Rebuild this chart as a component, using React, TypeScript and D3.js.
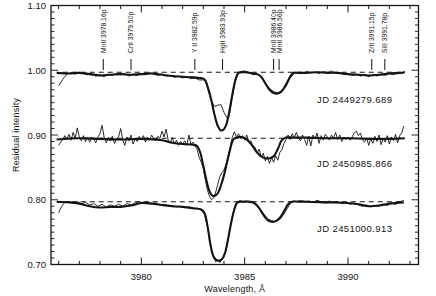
import React from "react";
import * as d3 from "d3";

// ---------- data ----------
const W = 436, H = 296;

// line identifications (label, wavelength)
const markerLabels = ["MnII 3978.16p", "CrII 3979.50p", "Y II 3982.59p", "HgII 3983.93p", "MnII 3986.40p", "MnII 3986.56p", "ZrII 3991.15p", "SiII 3991.78p"];
const markerWaves = [3978.16, 3979.50, 3982.59, 3983.93, 3986.40, 3986.56, 3991.15, 3991.78];

const jdLabels = ["JD 2449279.689", "JD 2450985.866", "JD 2451000.913"];
const continuumLevels = [0.997, 0.895, 0.797];
const jdLabelLevels = [0.950, 0.850, 0.750];

// Spectrum 1 (JD 2449279.689) model – thick
const modelTop: [number, number][] = [
  [3975.9, 0.996], [3976.5, 0.995], [3977.0, 0.996], [3977.5, 0.994], [3978.0, 0.992], [3978.5, 0.993],
  [3979.0, 0.994], [3979.5, 0.993], [3980.0, 0.994], [3980.5, 0.995], [3981.0, 0.993], [3981.5, 0.991],
  [3982.0, 0.990], [3982.5, 0.989], [3982.8, 0.988], [3983.0, 0.987], [3983.1, 0.984], [3983.25, 0.970],
  [3983.4, 0.952], [3983.55, 0.930], [3983.7, 0.914], [3983.85, 0.907], [3984.0, 0.909], [3984.1, 0.915],
  [3984.25, 0.935], [3984.4, 0.962], [3984.55, 0.985], [3984.7, 0.996], [3985.0, 0.997], [3985.4, 0.995],
  [3985.6, 0.994], [3985.8, 0.990], [3986.0, 0.980], [3986.2, 0.970], [3986.4, 0.965], [3986.6, 0.964],
  [3986.8, 0.968], [3987.0, 0.978], [3987.2, 0.990], [3987.35, 0.996], [3987.6, 0.996], [3988.0, 0.996],
  [3988.5, 0.997], [3989.0, 0.996], [3989.5, 0.996], [3990.0, 0.994], [3990.5, 0.993], [3991.0, 0.992],
  [3991.5, 0.993], [3992.0, 0.995], [3992.5, 0.996], [3992.75, 0.997],
];
// Spectrum 1 observed – thin
const obsTop: [number, number][] = [
  [3976.0, 0.976], [3976.2, 0.986], [3976.4, 0.994], [3976.6, 0.996], [3976.8, 0.994], [3977.0, 0.997],
  [3977.2, 0.995], [3977.4, 0.993], [3977.6, 0.995], [3977.8, 0.991], [3978.0, 0.993], [3978.2, 0.990],
  [3978.4, 0.994], [3978.6, 0.992], [3978.8, 0.995], [3979.0, 0.993], [3979.2, 0.995], [3979.4, 0.991],
  [3979.6, 0.994], [3979.8, 0.992], [3980.0, 0.995], [3980.2, 0.993], [3980.4, 0.996], [3980.6, 0.994],
  [3980.8, 0.992], [3981.0, 0.994], [3981.2, 0.991], [3981.4, 0.992], [3981.6, 0.989], [3981.8, 0.991],
  [3982.0, 0.988], [3982.2, 0.990], [3982.4, 0.987], [3982.6, 0.988], [3982.8, 0.985], [3983.0, 0.985],
  [3983.1, 0.983], [3983.25, 0.968], [3983.4, 0.952], [3983.55, 0.944], [3983.7, 0.946], [3983.85, 0.947],
  [3984.0, 0.935], [3984.15, 0.926], [3984.25, 0.930], [3984.4, 0.958], [3984.55, 0.983], [3984.7, 0.996],
  [3984.85, 0.998], [3985.0, 0.999], [3985.2, 0.997], [3985.4, 0.993], [3985.6, 0.995], [3985.8, 0.989],
  [3986.0, 0.980], [3986.2, 0.972], [3986.4, 0.967], [3986.6, 0.965], [3986.8, 0.968], [3987.0, 0.975],
  [3987.2, 0.988], [3987.4, 0.995], [3987.6, 0.997], [3987.8, 0.995], [3988.0, 0.998], [3988.2, 0.996],
  [3988.4, 0.997], [3988.6, 0.995], [3988.8, 0.998], [3989.0, 0.996], [3989.2, 0.999], [3989.4, 0.995],
  [3989.6, 0.996], [3989.8, 0.993], [3990.0, 0.995], [3990.2, 0.992], [3990.4, 0.994], [3990.6, 0.991],
  [3990.8, 0.993], [3991.0, 0.990], [3991.2, 0.993], [3991.4, 0.991], [3991.6, 0.994], [3991.8, 0.992],
  [3992.0, 0.995], [3992.2, 0.993], [3992.4, 0.996], [3992.6, 0.995], [3992.75, 0.998],
];

// Spectrum 2 (JD 2450985.866) model – thick
const modelMid: [number, number][] = [
  [3975.9, 0.893], [3977.0, 0.895], [3978.0, 0.894], [3979.0, 0.893], [3980.0, 0.894], [3981.0, 0.892],
  [3981.5, 0.888], [3982.0, 0.886], [3982.5, 0.885], [3982.7, 0.883], [3982.85, 0.873], [3983.0, 0.852],
  [3983.15, 0.830], [3983.3, 0.813], [3983.45, 0.806], [3983.6, 0.807], [3983.7, 0.810], [3983.85, 0.822],
  [3984.0, 0.838], [3984.15, 0.858], [3984.3, 0.878], [3984.45, 0.893], [3984.7, 0.897], [3985.0, 0.895],
  [3985.2, 0.890], [3985.4, 0.882], [3985.6, 0.873], [3985.8, 0.867], [3986.0, 0.864], [3986.2, 0.864],
  [3986.4, 0.867], [3986.6, 0.878], [3986.8, 0.892], [3987.0, 0.896], [3987.5, 0.896], [3988.0, 0.896],
  [3989.0, 0.895], [3990.0, 0.895], [3991.0, 0.894], [3992.0, 0.894], [3992.75, 0.895],
];
// Spectrum 2 observed – thin, sampled every 0.1 Å from 3976.0
const obsMidStart = 3976.0;
const obsMidStep = 0.1;
const obsMid: number[] = [
  0.884, 0.889, 0.893, 0.899, 0.893, 0.901, 0.892, 0.904, 0.895, 0.911,
  0.897, 0.891, 0.899, 0.890, 0.897, 0.889, 0.896, 0.893, 0.888, 0.897,
  0.902, 0.915, 0.897, 0.888, 0.896, 0.891, 0.898, 0.887, 0.894, 0.897,
  0.910, 0.893, 0.884, 0.897, 0.891, 0.900, 0.886, 0.894, 0.890, 0.898,
  0.893, 0.899, 0.889, 0.897, 0.892, 0.900, 0.894, 0.891, 0.898, 0.895,
  0.906, 0.897, 0.909, 0.892, 0.888, 0.896, 0.886, 0.892, 0.884, 0.890,
  0.886, 0.891, 0.884, 0.900, 0.885, 0.889, 0.883, 0.878, 0.865, 0.858,
  0.848, 0.830, 0.815, 0.805, 0.800, 0.803, 0.812, 0.824, 0.836, 0.842,
  0.846, 0.855, 0.868, 0.882, 0.896, 0.905, 0.897, 0.902, 0.894, 0.899,
  0.892, 0.900, 0.890, 0.891, 0.883, 0.881, 0.872, 0.878, 0.866, 0.872,
  0.860, 0.867, 0.856, 0.865, 0.858, 0.868, 0.861, 0.873, 0.877, 0.887,
  0.893, 0.900, 0.893, 0.902, 0.896, 0.904, 0.895, 0.891, 0.900, 0.893,
  0.884, 0.898, 0.883, 0.900, 0.894, 0.903, 0.887, 0.899, 0.892, 0.901,
  0.897, 0.892, 0.900, 0.895, 0.904, 0.893, 0.900, 0.890, 0.897, 0.893,
  0.897, 0.892, 0.897, 0.903, 0.906, 0.899, 0.903, 0.892, 0.889, 0.896,
  0.884, 0.894, 0.887, 0.898, 0.890, 0.900, 0.885, 0.895, 0.889, 0.899,
  0.886, 0.897, 0.891, 0.901, 0.888, 0.899, 0.903, 0.914,
];

// Spectrum 3 (JD 2451000.913) model – thick
const modelBot: [number, number][] = [
  [3975.9, 0.797], [3976.5, 0.796], [3977.0, 0.794], [3977.5, 0.790], [3978.0, 0.788], [3978.5, 0.789],
  [3979.0, 0.789], [3979.5, 0.791], [3980.0, 0.795], [3980.5, 0.794], [3981.0, 0.792], [3981.5, 0.790],
  [3982.0, 0.789], [3982.5, 0.787], [3982.9, 0.785], [3983.05, 0.780], [3983.2, 0.760], [3983.35, 0.730],
  [3983.5, 0.712], [3983.7, 0.706], [3983.9, 0.708], [3984.05, 0.718], [3984.2, 0.740], [3984.35, 0.765],
  [3984.5, 0.785], [3984.65, 0.796], [3984.9, 0.797], [3985.3, 0.797], [3985.5, 0.794], [3985.7, 0.787],
  [3985.9, 0.777], [3986.1, 0.769], [3986.3, 0.766], [3986.5, 0.767], [3986.7, 0.772], [3986.9, 0.782],
  [3987.1, 0.793], [3987.3, 0.797], [3987.6, 0.797], [3988.0, 0.797], [3989.0, 0.796], [3990.0, 0.795],
  [3990.5, 0.793], [3991.0, 0.790], [3991.5, 0.791], [3992.0, 0.794], [3992.7, 0.796],
];
// Spectrum 3 observed – thin
const obsBot: [number, number][] = [
  [3976.0, 0.780], [3976.15, 0.790], [3976.3, 0.796], [3976.5, 0.797], [3976.7, 0.795], [3976.9, 0.797],
  [3977.1, 0.794], [3977.3, 0.796], [3977.5, 0.792], [3977.7, 0.794], [3977.9, 0.790], [3978.1, 0.793],
  [3978.3, 0.789], [3978.5, 0.792], [3978.7, 0.790], [3978.9, 0.793], [3979.1, 0.790], [3979.3, 0.794],
  [3979.5, 0.792], [3979.7, 0.795], [3979.9, 0.797], [3980.1, 0.795], [3980.3, 0.797], [3980.5, 0.794],
  [3980.7, 0.795], [3980.9, 0.792], [3981.1, 0.793], [3981.3, 0.790], [3981.5, 0.791], [3981.7, 0.789],
  [3981.9, 0.790], [3982.1, 0.788], [3982.3, 0.789], [3982.5, 0.786], [3982.7, 0.787], [3982.9, 0.784],
  [3983.05, 0.778], [3983.2, 0.758], [3983.35, 0.728], [3983.5, 0.710], [3983.6, 0.704], [3983.7, 0.707],
  [3983.8, 0.703], [3983.9, 0.709], [3984.0, 0.712], [3984.1, 0.722], [3984.2, 0.738], [3984.35, 0.766],
  [3984.5, 0.787], [3984.65, 0.797], [3984.8, 0.799], [3984.95, 0.796], [3985.1, 0.798], [3985.25, 0.795],
  [3985.4, 0.797], [3985.55, 0.794], [3985.7, 0.788], [3985.85, 0.781], [3986.0, 0.775], [3986.15, 0.770],
  [3986.3, 0.768], [3986.45, 0.766], [3986.6, 0.768], [3986.75, 0.771], [3986.9, 0.778], [3987.05, 0.786],
  [3987.2, 0.794], [3987.35, 0.798], [3987.5, 0.797], [3987.7, 0.799], [3987.9, 0.797], [3988.1, 0.798],
  [3988.3, 0.796], [3988.5, 0.799], [3988.7, 0.797], [3988.9, 0.795], [3989.1, 0.798], [3989.3, 0.796],
  [3989.5, 0.797], [3989.7, 0.794], [3989.9, 0.796], [3990.1, 0.793], [3990.3, 0.795], [3990.5, 0.792],
  [3990.7, 0.790], [3990.9, 0.792], [3991.1, 0.789], [3991.3, 0.791], [3991.5, 0.790], [3991.7, 0.793],
  [3991.9, 0.791], [3992.1, 0.795], [3992.3, 0.793], [3992.5, 0.797], [3992.7, 0.799],
];

const xDomain = [3975.63, 3993.41];
const yDomain = [0.70, 1.10];
const xMajor = [3980, 3985, 3990];
const yMajor = [0.70, 0.80, 0.90, 1.00, 1.10];

// ---------- chart ----------
const FONT = "'Liberation Sans', Arial, sans-serif";
const INK = "#141414";

export default function App() {
  const left = 51, right = 418.5, top = 5.5, bottom = 264.5;
  const x = d3.scaleLinear().domain(xDomain).range([left, right]);
  const y = d3.scaleLinear().domain(yDomain).range([bottom, top]);

  const xMinor = d3.range(Math.ceil(xDomain[0]), Math.floor(xDomain[1]) + 1, 1);
  const yMinor = d3.range(0, 41).map((i) => +(yDomain[0] + i * 0.01).toFixed(2));

  const thick = d3.line<[number, number]>().x((d) => x(d[0])).y((d) => y(d[1])).curve(d3.curveCatmullRom.alpha(0.5));
  const thin = d3.line<[number, number]>().x((d) => x(d[0])).y((d) => y(d[1]));

  const obsMidPts: [number, number][] = obsMid.map((v, i) => [obsMidStart + i * obsMidStep, v]);

  const isMajorX = (t: number) => xMajor.includes(t);
  const isMajorY = (t: number) => yMajor.some((m) => Math.abs(m - t) < 1e-6);

  // label x positions, spread so adjacent labels don't collide
  const labelX: number[] = [];
  markerWaves.forEach((w, i) => {
    let px = x(w);
    if (i > 0 && px - labelX[i - 1] < 5.5) px = labelX[i - 1] + 5.5;
    labelX.push(px);
  });

  return (
    <svg width={W} height={H} style={{ position: "absolute", left: 0, top: 0, background: "#fff" }}>
      <rect x={0} y={0} width={W} height={H} fill="#fff" />
      {/* frame */}
      <rect x={left} y={top} width={right - left} height={bottom - top} fill="none" stroke={INK} strokeWidth={1.3} />
      {/* x ticks bottom/top */}
      {xMinor.map((t) => {
        const len = isMajorX(t) ? 7 : 3.5;
        return (
          <g key={"xt" + t}>
            <line x1={x(t)} x2={x(t)} y1={bottom} y2={bottom - len} stroke={INK} strokeWidth={1} />
            <line x1={x(t)} x2={x(t)} y1={top} y2={top + len} stroke={INK} strokeWidth={1} />
          </g>
        );
      })}
      {/* y ticks left/right */}
      {yMinor.map((t) => {
        const len = isMajorY(t) ? 7 : 3.5;
        return (
          <g key={"yt" + t}>
            <line x1={left} x2={left + len} y1={y(t)} y2={y(t)} stroke={INK} strokeWidth={0.9} />
            <line x1={right} x2={right - len} y1={y(t)} y2={y(t)} stroke={INK} strokeWidth={0.9} />
          </g>
        );
      })}
      {/* tick labels */}
      {xMajor.map((t) => (
        <text key={"xl" + t} x={x(t)} y={280} textAnchor="middle" fontFamily={FONT} fontSize={9.5} fill={INK}>
          {t}
        </text>
      ))}
      {yMajor.map((t) => (
        <text key={"yl" + t} x={46} y={y(t) + 3.5} textAnchor="end" fontFamily={FONT} fontSize={9.5} fill={INK}>
          {t.toFixed(2)}
        </text>
      ))}
      <text x={(left + right) / 2} y={292} textAnchor="middle" fontFamily={FONT} fontSize={9} letterSpacing={0.2} fill={INK}>
        Wavelength, Å
      </text>
      <text transform={`translate(19,${(top + bottom) / 2}) rotate(-90)`} textAnchor="middle" fontFamily={FONT} fontSize={9} letterSpacing={0.2} fill={INK}>
        Residual intensity
      </text>

      {/* continuum dashed lines */}
      {continuumLevels.map((c, i) => (
        <line key={"c" + i} x1={x(3976.2)} x2={x(3992.75)} y1={y(c)} y2={y(c)} stroke={INK} strokeWidth={1.1} strokeDasharray="5,4" />
      ))}

      {/* spectra */}
      <path d={thin(obsTop) || ""} fill="none" stroke={INK} strokeWidth={0.9} />
      <path d={thick(modelTop) || ""} fill="none" stroke={INK} strokeWidth={2.1} />
      <path d={thin(obsMidPts) || ""} fill="none" stroke={INK} strokeWidth={0.9} />
      <path d={thick(modelMid) || ""} fill="none" stroke={INK} strokeWidth={2.1} />
      <path d={thin(obsBot) || ""} fill="none" stroke={INK} strokeWidth={0.9} />
      <path d={thick(modelBot) || ""} fill="none" stroke={INK} strokeWidth={2.1} />

      {/* line identifications */}
      {markerWaves.map((w, i) => (
        <g key={"m" + i}>
          <line x1={labelX[i]} x2={labelX[i]} y1={59} y2={70} stroke={INK} strokeWidth={1} />
          <text transform={`translate(${labelX[i] + 2.4},53) rotate(-90)`} fontFamily={FONT} fontSize={6.8} fill={INK}>
            {markerLabels[i]}
          </text>
        </g>
      ))}

      {/* JD labels */}
      {jdLabels.map((s, i) => (
        <text key={"jd" + i} x={317} y={y(jdLabelLevels[i])} fontFamily={FONT} fontSize={9.5} letterSpacing={0.4} fill={INK}>
          {s}
        </text>
      ))}
    </svg>
  );
}
